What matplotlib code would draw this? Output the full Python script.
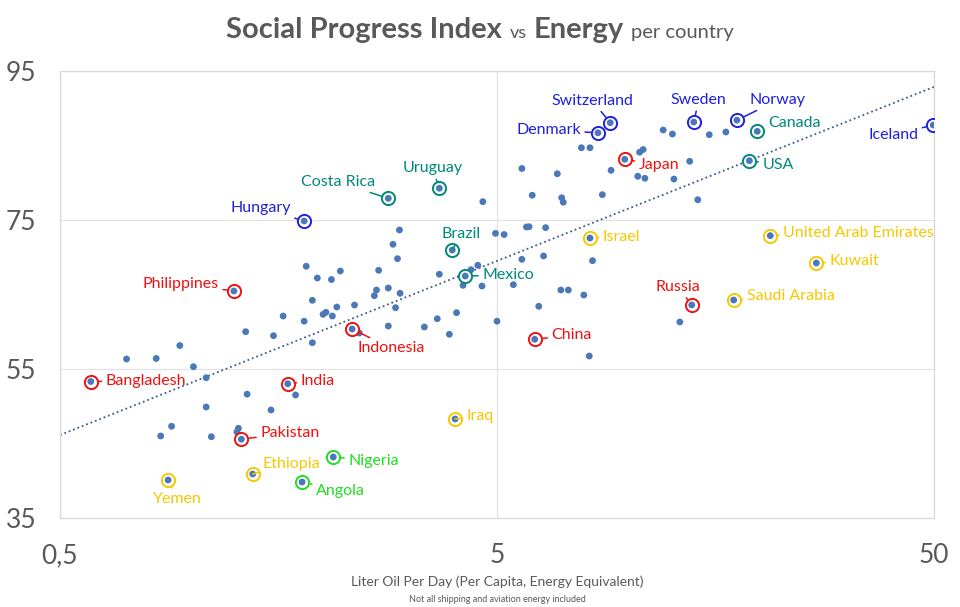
import numpy as np
import matplotlib
matplotlib.use("Agg")
import matplotlib.pyplot as plt
from matplotlib.ticker import FixedLocator, FixedFormatter, NullLocator

plt.rcParams["font.family"] = ["Lato", "DejaVu Sans"]

# highlighted countries: name, energy (liter oil/day), social progress index, group
countries = ["Switzerland", "Denmark", "Sweden", "Norway", "Canada", "Iceland",
             "Japan", "USA", "Israel", "United Arab Emirates", "Kuwait", "Saudi Arabia",
             "Russia", "China", "Mexico", "Brazil", "Uruguay", "Costa Rica", "Hungary",
             "Philippines", "Indonesia", "Bangladesh", "India", "Pakistan", "Iraq",
             "Ethiopia", "Nigeria", "Angola", "Yemen"]
country_energy = [9.08, 8.51, 14.1, 17.7, 19.7, 49.8,
                  9.8, 18.9, 8.16, 21.1, 26.9, 17.4,
                  13.95, 6.1, 4.23, 3.95, 3.69, 2.82, 1.81,
                  1.25, 2.33, 0.588, 1.66, 1.30, 4.01,
                  1.38, 2.11, 1.79, 0.884]
country_spi = [88.06, 86.7, 88.15, 88.4, 86.9, 87.75,
               83.15, 82.96, 72.58, 72.9, 69.23, 64.26,
               63.6, 58.99, 67.48, 70.97, 79.26, 77.91, 74.87,
               65.47, 60.37, 53.32, 53.03, 45.58, 48.29,
               40.91, 43.19, 39.83, 40.1]
country_group = ["blue", "blue", "blue", "blue", "teal", "blue",
                 "red", "teal", "gold", "gold", "gold", "gold",
                 "red", "red", "teal", "teal", "teal", "teal", "blue",
                 "red", "red", "red", "red", "red", "gold",
                 "gold", "green", "green", "gold"]

# remaining countries (unlabelled dots)
other_energy = [4.64, 2.99, 4.96, 5.19, 2.89, 2.96, 1.83, 1.94, 2.09, 2.19,
                2.68, 3.69, 4.36, 4.52, 4.18, 4.62, 2.65, 2.62, 2.82, 3.0,
                1.89, 2.36, 2.15, 2.93, 2.0, 2.03, 2.10, 1.62, 1.81, 4.04,
                3.65, 3.41, 2.82, 2.42, 3.89, 5.0, 1.33, 1.54, 1.89, 0.94,
                0.71, 0.83, 1.01, 1.08, 1.34, 1.73, 1.08, 1.52, 0.90, 0.85,
                1.11, 1.28, 1.27,
                12.0, 12.6, 15.3, 16.7, 7.8, 8.16, 10.6, 10.8, 5.7, 6.87,
                9.12, 13.8, 10.5, 10.9, 12.7, 6.02, 7.03, 7.09, 8.71, 14.4,
                5.84, 5.92, 6.46, 5.7, 6.39, 8.27, 5.45, 7.0, 7.28, 7.9,
                6.23, 13.1, 8.13]
other_spi = [77.46, 73.66, 73.21, 73.05, 71.74, 69.81, 68.79, 67.21, 67.01, 68.15,
             68.25, 67.72, 68.33, 68.92, 66.23, 66.14, 65.6, 64.84, 65.87, 65.16,
             64.22, 63.59, 63.32, 63.23, 62.34, 62.61, 62.11, 62.11, 61.42, 62.56,
             61.75, 60.64, 60.77, 59.83, 59.66, 61.42, 60.01, 59.47, 58.53, 58.15,
             56.34, 56.41, 55.31, 53.83, 51.62, 51.51, 49.9, 49.5, 47.31, 46.01,
             45.91, 47.04, 46.54,
             87.08, 86.54, 86.45, 86.81, 84.7, 84.7, 84.1, 84.46, 81.91, 81.21,
             81.67, 82.88, 80.87, 80.6, 80.5, 78.32, 77.99, 77.38, 78.4, 77.72,
             74.06, 74.1, 73.97, 69.72, 70.17, 69.54, 66.32, 65.6, 65.6, 64.93,
             63.42, 61.31, 56.74]

x_ticks = [0.5, 5, 50]
x_tick_labels = ["0,5", "5", "50"]
y_ticks = [35, 55, 75, 95]

GROUP_COLORS = {"blue": "#1F1FE0", "teal": "#00897B", "red": "#EE1111",
                "gold": "#F5C800", "green": "#22DD22"}
DOT = "#4A78B8"
GRAY = "#595959"

# label placement: (dx, dy) in pixels from the point, horizontal alignment
label_pos = {
    "Switzerland": (-18, 22, "center"), "Denmark": (-17, 3, "right"),
    "Sweden": (5, 22, "center"), "Norway": (13, 20, "left"),
    "Canada": (11, 8, "left"), "Iceland": (-15, -10, "right"),
    "Japan": (14, -6, "left"), "USA": (13, -4, "left"),
    "Israel": (13, 1, "left"), "United Arab Emirates": (13, 3, "left"),
    "Kuwait": (13, 2, "left"), "Saudi Arabia": (13, 4, "left"),
    "Russia": (-14, 18, "center"), "China": (17, 4, "left"),
    "Mexico": (17, 1, "left"), "Brazil": (9, 16, "center"),
    "Uruguay": (-7, 20, "center"), "Costa Rica": (-13, 16, "right"),
    "Hungary": (-13, 13, "right"), "Philippines": (-15, 7, "right"),
    "Indonesia": (5, -19, "left"), "Bangladesh": (15, 1, "left"),
    "India": (13, 3, "left"), "Pakistan": (19, 6, "left"),
    "Iraq": (11, 3, "left"), "Ethiopia": (10, 10, "left"),
    "Nigeria": (15, -4, "left"), "Angola": (14, -9, "left"),
    "Yemen": (9, -19, "center"),
}

fig = plt.figure(figsize=(9.6, 6.07), dpi=100)
ax = fig.add_axes([60 / 960, 1 - 518 / 607, 874 / 960, 447 / 607])
ax.set_xscale("log")
ax.set_xlim(0.5, 50)
ax.set_ylim(35, 95)

for sp in ax.spines.values():
    sp.set_color("#D9D9D9")
    sp.set_linewidth(0.9)

ax.xaxis.set_major_locator(FixedLocator(x_ticks))
ax.xaxis.set_major_formatter(FixedFormatter(x_tick_labels))
ax.xaxis.set_minor_locator(NullLocator())
ax.yaxis.set_major_locator(FixedLocator(y_ticks))
ax.tick_params(length=0, labelsize=19, labelcolor=GRAY)
ax.tick_params(axis="y", pad=17)
ax.tick_params(axis="x", pad=18)
ax.grid(True, color="#E3E3E3", linewidth=0.9)
ax.set_axisbelow(True)

# logarithmic trend line fitted through all countries
all_x = np.array(country_energy + other_energy)
all_y = np.array(country_spi + other_spi)
slope, icpt = np.polyfit(np.log10(all_x), all_y, 1)
tx = np.logspace(np.log10(0.5), np.log10(50), 200)
ax.plot(tx, icpt + slope * np.log10(tx), color="#3E5B8C", linewidth=1.3,
        linestyle=(0, (1, 1.6)), zorder=2)

ax.scatter(other_energy, other_spi, s=24, color=DOT, edgecolor="none", zorder=3)

for name, xv, yv, grp in zip(countries, country_energy, country_spi, country_group):
    c = GROUP_COLORS[grp]
    ax.scatter([xv], [yv], s=90, facecolor="white", edgecolor=c, linewidth=1.4, zorder=4)
    ax.scatter([xv], [yv], s=24, color=DOT, edgecolor="none", zorder=5)
    dx, dy, ha = label_pos[name]
    ax.annotate(name, (xv, yv), xytext=(dx, dy), textcoords="offset pixels",
                ha=ha, va="center", fontsize=11.5, color=c, zorder=6,
                annotation_clip=False,
                arrowprops=dict(arrowstyle="-", color=c, lw=1.1, shrinkA=1, shrinkB=5))

fig.text(497 / 960, 1 - 582 / 607, "Liter Oil Per Day (Per Capita, Energy Equivalent)",
         fontsize=10, color=GRAY, ha="center", va="center")
fig.text(497 / 960, 1 - 599 / 607, "Not all shipping and aviation energy included",
         fontsize=6.5, color=GRAY, ha="center", va="center")

# title made of mixed-weight pieces, centred as a group
parts = [("Social Progress Index", 21, "bold"), ("vs", 13, "normal"),
         ("Energy", 21, "bold"), ("per country", 14.5, "normal")]
r = fig.canvas.get_renderer()
texts = [fig.text(0, 1 - 38 / 607, s, fontsize=fs, fontweight=fw, color=GRAY,
                  ha="left", va="baseline") for s, fs, fw in parts]
widths = [t.get_window_extent(r).width for t in texts]
gap = 7
xpos = 480 - (sum(widths) + gap * (len(widths) - 1)) / 2
for t, w in zip(texts, widths):
    t.set_x(xpos / 960)
    xpos += w + gap

fig.savefig("out.png", dpi=100)
